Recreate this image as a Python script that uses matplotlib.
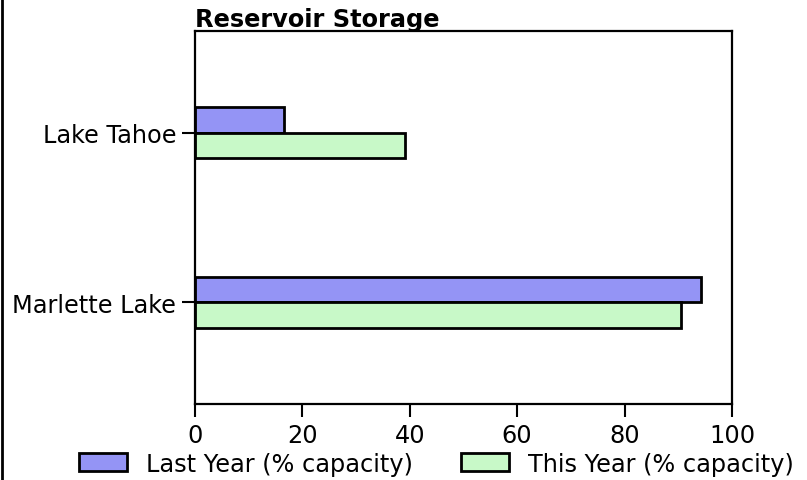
import numpy as np
import matplotlib
matplotlib.use("Agg")
import matplotlib.pyplot as plt
from matplotlib.lines import Line2D

# data
lakes = ["Marlette Lake", "Lake Tahoe"]
last_year = [94.3, 16.5]
this_year = [90.6, 39.2]
labels = ["Last Year (% capacity)", "This Year (% capacity)"]

FS = 17.3
plt.rcParams["font.family"] = "DejaVu Sans"

fig = plt.figure(figsize=(8.07, 4.81), dpi=100)
ax = fig.add_axes([0.2416, 0.158, 0.6654, 0.7755])

y = np.arange(len(lakes))
h = 0.15
ax.barh(y + h / 2, last_year, height=h, color="#9494f5", edgecolor="black",
        linewidth=2, label=labels[0])
ax.barh(y - h / 2, this_year, height=h, color="#c8f9c8", edgecolor="black",
        linewidth=2, label=labels[1])

ax.set_yticks(y)
ax.set_yticklabels(lakes)
ax.set_xlim(0, 100)
ax.set_xticks([0, 20, 40, 60, 80, 100])
ax.set_ylim(-0.6, 1.6)
ax.tick_params(labelsize=FS, length=9.5, width=1.5, pad=4)
for s in ax.spines.values():
    s.set_linewidth(1.6)

ax.set_title("Reservoir Storage", loc="left", fontsize=FS, fontweight="bold", pad=3)

fig.legend(loc="center", bbox_to_anchor=(0.541, 0.034), ncol=2, frameon=False,
           fontsize=FS, handleheight=0.75)

# thin border on the left edge of the screenshot
fig.add_artist(Line2D([0.002, 0.002], [0, 1], color="black", linewidth=2,
                      transform=fig.transFigure))

fig.savefig("out.png", dpi=100)
